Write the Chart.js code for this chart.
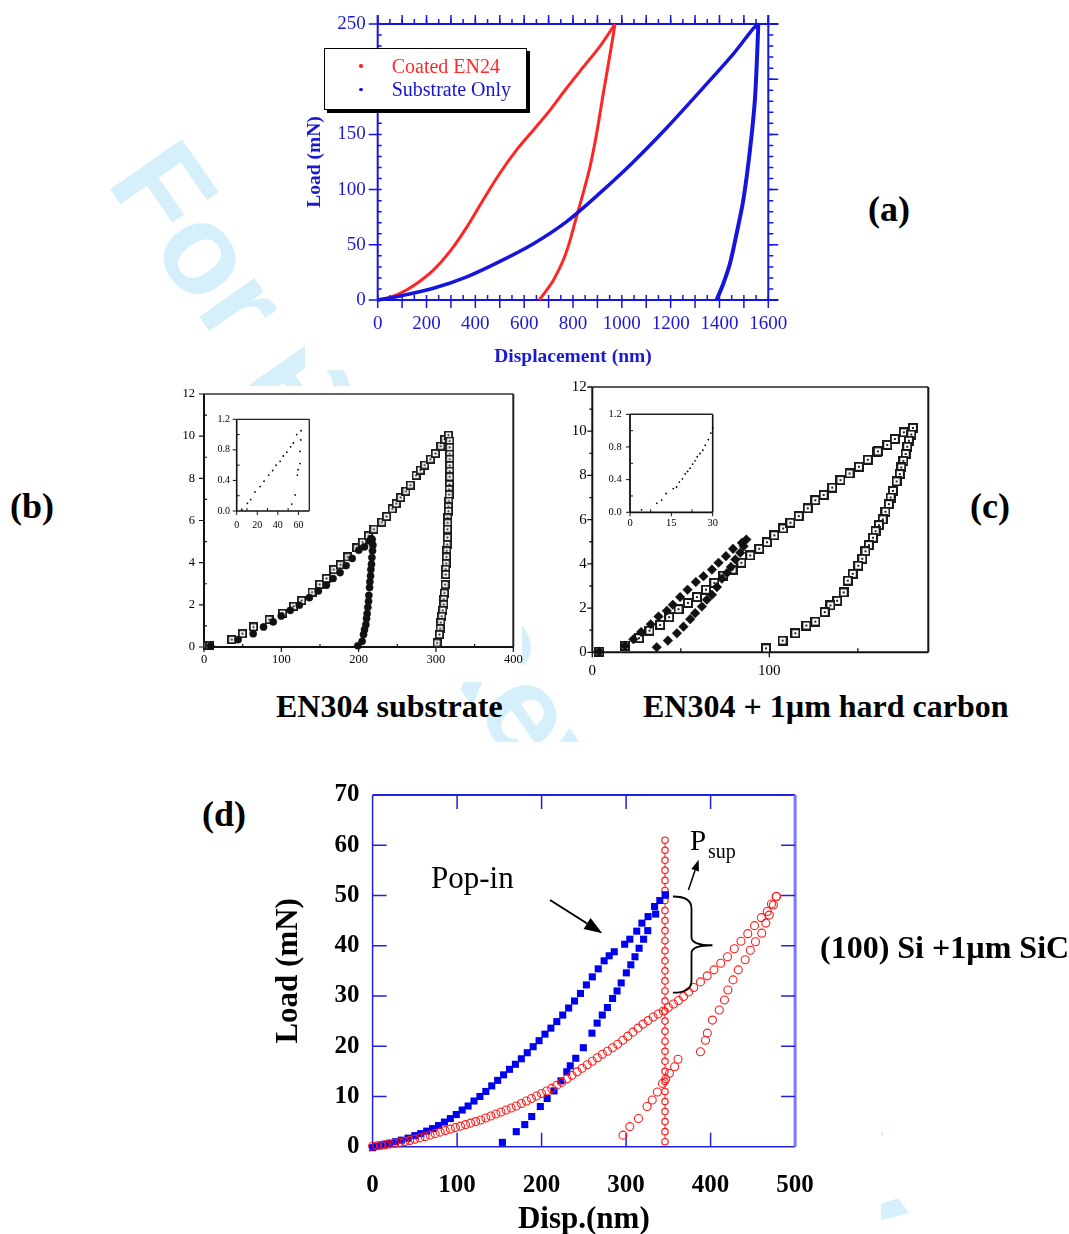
<!DOCTYPE html>
<html><head><meta charset="utf-8">
<title>Load–displacement curves</title>
<script src="https://cdn.jsdelivr.net/npm/chart.js"></script>
<style>
html,body{margin:0;padding:0;background:#fff}
body{position:relative;width:1069px;height:1234px;overflow:hidden;font-family:"Liberation Serif","Times New Roman",serif}
.wm{position:absolute;left:193px;top:121px;transform-origin:0 0;transform:rotate(55deg);font:bold 127px/1 "Liberation Sans",Arial,sans-serif;color:rgb(213,239,251);white-space:nowrap}
.cover{position:absolute;background:#fff}
.box{position:absolute}
.box canvas{display:block}
.t{position:absolute;white-space:nowrap;line-height:1;color:#000}
.b{font-weight:bold}
</style></head>
<body>
<div class="wm">For Peer Review Only</div>
<div class="cover" style="left:305px;top:0;width:495px;height:370px"></div>
<div class="cover" style="left:170px;top:386px;width:352px;height:296px"></div>
<div class="cover" style="left:545px;top:372px;width:395px;height:310px"></div>
<div class="cover" style="left:200px;top:742px;width:681px;height:492px"></div>
<div id="charts"></div>
<div id="labels">
  <div style="position:absolute;left:324px;top:48px;width:203px;height:62px;box-sizing:border-box;border:1.5px solid #000;background:#fff;box-shadow:3px 3px 0 #000"></div>
  <div style="position:absolute;left:359px;top:64px;width:3.5px;height:3.5px;border-radius:50%;background:#ff2020"></div>
  <div class="t" style="left:391.7px;top:55.9px;font-size:20px;color:#ff2a2a">Coated EN24</div>
  <div style="position:absolute;left:359px;top:87.5px;width:3.5px;height:3.5px;border-radius:50%;background:#1515d8"></div>
  <div class="t" style="left:391.7px;top:79.2px;font-size:20px;color:#1515d0">Substrate Only</div>

  <div class="t b" style="left:868px;top:191px;font-size:36px">(a)</div>
  <div class="t b" style="left:10px;top:488px;font-size:36px">(b)</div>
  <div class="t b" style="left:970px;top:488px;font-size:36px">(c)</div>
  <div class="t b" style="left:202px;top:796px;font-size:36px">(d)</div>

  <div class="t b" style="left:276px;top:690.2px;font-size:32px">EN304 substrate</div>
  <div class="t b" style="left:643px;top:690.2px;font-size:32px">EN304 + 1µm hard carbon</div>
  <div class="t b" style="left:820px;top:931.4px;font-size:32px">(100) Si +1µm SiC</div>

  <div class="t" style="left:431px;top:862px;font-size:31px">Pop-in</div>
  <div class="t" style="left:690px;top:826px;font-size:29px">P</div>
  <div class="t" style="left:708px;top:840.6px;font-size:20px">sup</div>
</div>
<script>
// ---------------- DATA ----------------
// (a) Coated EN24 vs Substrate Only : displacement (nm), load (mN)
const aCoatedLoadX   = [0, 37, 92, 160, 228, 296, 365, 433, 501, 569, 638, 706, 774, 842, 911, 972];
const aCoatedLoadY   = [0, 1.5, 6, 15, 27, 44, 66, 91, 115, 136, 154, 172, 192, 211, 230, 250];
const aCoatedUnloadX = [972, 952, 924, 897, 870, 842, 815, 788, 760, 720, 692, 662];
const aCoatedUnloadY = [250, 223, 187, 151, 121, 97, 76, 54, 36, 18, 9, 0];
const aSubLoadX      = [0, 92, 228, 365, 501, 638, 774, 911, 1047, 1184, 1320, 1457, 1539, 1559];
const aSubLoadY      = [0, 3.6, 10.6, 21, 35, 51, 71, 97, 125, 156, 189, 223, 246, 250];
const aSubUnloadX    = [1559, 1555, 1545, 1525, 1498, 1470, 1443, 1416, 1388];
const aSubUnloadY    = [250, 226, 181, 136, 91, 60, 33, 15, 0];

// (b) EN304 substrate : [displacement, load]
const bSquares = [[4.3,0.08],[7.4,0.08],[35.9,0.35],[49.7,0.63],[64,0.95],[84.3,1.3],[101.6,1.6],[115.9,1.93],[126.3,2.2],[139.7,2.6],[149.6,2.97],[158.3,3.25],[167.8,3.67],[176.4,3.9],[185.9,4.27],[197.6,4.7],[205,4.97],[212.8,5.27],[219.7,5.59],[230,5.92],[236.1,6.19],[243.5,6.55],[248.6,6.8],[254.3,7.09],[261.2,7.39],[266.8,7.68],[274.2,8.14],[279.8,8.39],[285.4,8.63],[292.8,8.91],[299.2,9.18],[306.2,9.53],[311.4,9.85],[316.1,10.05],
  [317.8,9.77],[317.8,9.47],[317.8,9.15],[317.8,8.91],[317.8,8.61],[317.8,8.34],[317.8,8.07],[317.4,7.71],[317,7.47],[317,7.23],[316.6,6.92],[316.1,6.65],[316.1,6.44],[315.2,6.13],[315.2,5.89],[314.8,5.59],[314.8,5.19],[314.4,4.86],[314,4.56],[313.5,4.27],[313.1,3.96],[312.6,3.69],[312.6,3.44],[311.8,2.96],[310.9,2.56],[310.1,2.26],[310.1,2.01],[308.8,1.74],[307.5,1.46],[306.2,1.16],[305.3,0.87],[304.4,0.59],[301.4,0.19]];
const bDiamonds = [[8.6,0.06],[44.1,0.35],[63.6,0.63],[77,0.95],[89.5,1.19],[99.9,1.47],[111.6,1.74],[123.2,1.98],[136.2,2.34],[147.9,2.66],[158.3,2.93],[166.9,3.25],[176,3.53],[183.8,3.86],[191.6,4.2],[200.2,4.59],[207.6,4.75],[214.1,5.03],[216.2,5.14],
  [217.5,5.1],[218.4,4.83],[217.9,4.56],[217.1,4.24],[216.6,3.93],[215.8,3.67],[215.4,3.37],[214.5,3.09],[214.1,2.82],[213.2,2.45],[212.8,2.17],[211.9,1.88],[211,1.58],[210.2,1.35],[209.3,1.06],[207.6,0.82],[206.3,0.59],[204.5,0.27],[198.9,0.06]];
const bInsetLoad   = [[4.9,0.02],[10.4,0.1],[13.6,0.15],[17.8,0.25],[22.7,0.32],[26.6,0.39],[31.1,0.47],[35,0.53],[38.3,0.6],[42.2,0.65],[45.4,0.72],[48.7,0.77],[52.5,0.84],[55.1,0.89],[58.4,1.0]];
const bInsetUnload = [[53.5,0.09],[56.8,0.21],[59,0.47],[59.7,0.54],[61.6,0.62],[61.6,0.78],[62.3,0.93],[62.6,1.05]];

// (c) EN304 + 1µm hard carbon : [displacement, load]
const cSquares = [[4,0.03],[18.5,0.3],[26.4,0.64],[32.3,0.98],[38.3,1.24],[43.4,1.59],[48.7,1.95],[54,2.23],[59.1,2.5],[64.2,2.83],[68.9,3.14],[74.1,3.47],[79.2,3.74],[84.2,4.05],[89.2,4.38],[94.3,4.68],[98.7,4.98],[102.8,5.29],[107.8,5.6],[111.9,5.86],[116.6,6.16],[121.7,6.51],[126,6.88],[130.7,7.12],[135.5,7.45],[140.2,7.79],[145.3,8.09],[150.6,8.39],[155.6,8.71],[160.6,9.05],[161.3,9.09],[166.6,9.38],[170.9,9.65],[176,9.95],[181.1,10.15],
  [180.2,9.85],[178.8,9.57],[177.9,9.3],[177,8.97],[175.7,8.66],[174.5,8.36],[173.7,8.06],[171.9,7.73],[169.8,7.3],[168.5,7.0],[167.5,6.7],[165.6,6.36],[164.1,6.01],[161.9,5.75],[160,5.48],[158.5,5.18],[156.2,4.85],[154.3,4.57],[152.5,4.23],[150.2,3.92],[147.1,3.55],[144.3,3.24],[142,2.71],[138.3,2.33],[134.5,2.12],[131.3,1.82],[126,1.39],[120.9,1.21],[114.7,0.86],[107.5,0.53],[98.1,0.18]];
const cDiamonds = [[4,0.03],[18.5,0.3],[23.2,0.59],[27.6,0.92],[33,1.27],[37.4,1.62],[42.1,1.88],[45.5,2.15],[49.6,2.5],[53.8,2.83],[58.5,3.18],[62.8,3.44],[67.6,3.74],[71.3,4.05],[75.5,4.35],[79.5,4.68],[84.5,4.95],[87,5.1],
  [85.5,4.8],[83.6,4.5],[80.8,4.2],[78.3,3.86],[76.1,3.59],[73.2,3.33],[70.4,2.95],[67.6,2.6],[64.7,2.38],[61.9,2.07],[58.1,1.77],[55.3,1.5],[51.5,1.16],[47.8,0.86],[42.7,0.53],[36.4,0.23]];
const cInset = [[4.2,0.03],[9.7,0.11],[11.5,0.15],[13.1,0.23],[15.7,0.29],[16.9,0.31],[17.9,0.37],[19,0.41],[20,0.47],[20.9,0.5],[21.8,0.54],[22.7,0.59],[23.6,0.63],[24.4,0.68],[25.4,0.72],[26.4,0.76],[27.3,0.82],[28.4,0.89],[29.3,0.97],[30,1.03]];

// (d) (100) Si + 1µm SiC : [Disp (nm), Load (mN)]
const dBlueLoad = [[0,-0.2],[5,0.1],[10,0.3],[15,0.5],[20,0.7],[27,1.0],[34,1.3],[42,1.7],[50,2.2],[57,2.6],[64,3.1],[71,3.6],[78,4.2],[85,4.9],[92,5.6],[99,6.4],[106,7.3],[113,8.1],[120,9.1],[127,10.0],[134,11.0],[141,12.1],[148,13.2],[155,14.3],[162,15.4],[169,16.4],[176,17.5],[183,18.7],[190,19.9],[197,21.1],[204,22.4],[211,23.6],[218,24.9],[225,26.2],[232,27.6],[239,29.0],[246,30.5],[253,32.2],[260,33.8],[267,35.4],[274,37.0],[280,38.0],[286,38.8],[298.3,40.3],[304.4,41.3],[312.6,42.9],[318.7,44.5],[326,45.8],[333.7,47.8],[339.9,49.0],[346.4,50.1]];
const dBlueUnload = [[346.4,50.1],[335,46.3],[325.6,43],[320.7,41.3],[315.4,39.5],[310.5,37.8],[305.6,36.2],[300.3,34.6],[294.2,32.6],[289.3,31],[284,29.5],[277.9,27.7],[271.8,26.2],[265.7,24.6],[259.6,22.6],[249.4,19.7],[240.4,17.6],[233.9,16.1],[229.8,14.9],[222.9,13.1],[214.7,11.1],[206.6,9.6],[198.5,8.0],[188.3,6.0],[180.1,4.4],[170,3.0],[153.6,0.86]];
const dRedLoad = [[0,0.1],[5,0.2],[10,0.3],[15,0.4],[20,0.55],[26,0.7],[32,0.9],[38,1.05],[44,1.25],[50,1.5],[56,1.75],[62,2.0],[68,2.3],[74,2.6],[80,2.9],[86,3.2],[92,3.5],[98,3.8],[104,4.1],[110,4.4],[116,4.7],[122,5.0],[128,5.3],[134,5.7],[140,6.1],[146,6.5],[152,6.9],[158,7.3],[164,7.7],[170,8.1],[176,8.6],[182,9.1],[188,9.6],[194,10.1],[200,10.6],[206,11.1],[212,11.6],[218,12.2],[224,12.8],[230,13.5],[236,14.2],[242,14.9],[248,15.6],[254,16.3],[260,17.0],[266,17.7],[272,18.4],[278,19.0],[284,19.7],[290,20.4],[296,21.2],[302,22.0],[308,22.8],[314,23.6],[320,24.4],[326,25.1],[332,25.8],[338,26.4],[344,27.0],[350,27.7],[356,28.4],[362,29.1],[368,29.9],[374,30.8],[380,31.7],[388,32.8],[396,34.0],[404,35.2],[412,36.5],[420,37.8],[428,39.4],[436,40.9],[444,42.4],[452,44.0],[460,45.6],[467,46.8],[472,48.3],[478,49.8]];
const dRedUnload = [[477.6,49.8],[474.3,48.1],[469.4,46.1],[465.4,44.5],[460.5,42.5],[453.1,40.8],[447,39.1],[440.9,37.2],[432.7,35.2],[426.6,33.2],[420.5,31.2],[416.4,29.2],[410.3,27.2],[402.2,25.2],[396.1,22.6],[394,21.2],[388,18.9]];
const dRedLower = [[296.3,2.3],[304.4,4.0],[314.6,5.6],[324.8,8.0],[330.9,9.3],[337,10.9],[343.1,12.6],[347,13.5],[351.3,14.6],[357.4,15.9],[361.4,17.4]];
const dSupX = 346;
const dSupY = [1,3,5,7,9,11,13,15,17,19,21,23,25,27,29,31,33,35,37,39,41,43,45,47,49,51,53,55,57,59,61];

// ---------------- HELPERS ----------------
const SERIF = '"Liberation Serif","Times New Roman",serif';
const pts = arr => arr.map(p => ({x: p[0], y: p[1]}));
const xy = (xs, ys) => xs.map((x, i) => ({x, y: ys[i]}));

function framePlugin(spec) {
  return {
    id: 'frame',
    beforeDatasetsDraw(chart) {
      const {ctx, chartArea: a, scales} = chart;
      ctx.save();
      (spec.lines || []).forEach(L => {
        ctx.strokeStyle = L.color; ctx.lineWidth = L.width;
        const e = L.ext || [0, 0];
        ctx.beginPath();
        if (L.side === 'left' || L.side === 'right') {
          const x = a[L.side];
          ctx.moveTo(x, a.top - e[0]); ctx.lineTo(x, a.bottom + e[1]);
        } else {
          const y = a[L.side];
          ctx.moveTo(a.left - e[0], y); ctx.lineTo(a.right + e[1], y);
        }
        ctx.stroke();
      });
      (spec.ticks || []).forEach(T => {
        const vert = T.side === 'left' || T.side === 'right';
        const sc = vert ? scales.y : scales.x;
        const dir = (T.side === 'left' || T.side === 'top') ? -1 : 1;
        ctx.strokeStyle = T.color; ctx.lineWidth = T.width;
        ctx.beginPath();
        const n = Math.round((T.to - T.from) / T.step);
        for (let i = 0; i <= n; i++) {
          const p = sc.getPixelForValue(T.from + i * T.step);
          const base = a[T.side];
          if (vert) { ctx.moveTo(base + dir * T.out, p); ctx.lineTo(base - dir * T.in, p); }
          else { ctx.moveTo(p, base + dir * T.out); ctx.lineTo(p, base - dir * T.in); }
        }
        ctx.stroke();
      });
      ctx.restore();
    }
  };
}

function axis(min, max, step, o) {
  return {
    type: 'linear', min, max,
    grid: {display: false, drawTicks: false, tickLength: 0}, border: {display: false},
    ticks: {
      stepSize: step, includeBounds: false, autoSkip: false, maxRotation: 0, minRotation: 0,
      color: o.color || '#000',
      font: {family: SERIF, size: o.size, weight: o.weight || 'normal'},
      padding: o.pad,
      callback: o.fmt || (v => String(v))
    },
    title: o.title ? {
      display: true, text: o.title, color: o.color || '#000',
      font: {family: SERIF, size: o.tsize, weight: o.tweight || 'bold', lineHeight: o.tlh || 1.2},
      padding: o.tpad
    } : {display: false}
  };
}

function makeChart(box, area, xAxis, yAxis, datasets, plugins) {
  const holder = document.createElement('div');
  holder.className = 'box';
  holder.style.cssText = `left:${box.l}px;top:${box.t}px;width:${box.w}px;height:${box.h}px`;
  const cv = document.createElement('canvas');
  cv.width = box.w; cv.height = box.h;
  cv.style.width = box.w + 'px'; cv.style.height = box.h + 'px';
  holder.appendChild(cv);
  document.getElementById('charts').appendChild(holder);
  const yW = area.l - box.l, xH = box.t + box.h - area.b;
  xAxis.position = 'bottom'; yAxis.position = 'left';
  xAxis.afterFit = s => { s.height = xH; };
  yAxis.afterFit = s => { s.width = yW; };
  return new Chart(cv, {
    type: 'scatter',
    data: {datasets},
    options: {
      responsive: false, animation: false, events: [],
      layout: {padding: {left: 0, top: area.t - box.t, right: box.l + box.w - area.r, bottom: 0}},
      plugins: {legend: {display: false}, tooltip: {enabled: false}},
      scales: {x: xAxis, y: yAxis}
    },
    plugins: plugins || []
  });
}

function lineDS(data, color, width) {
  return {data, showLine: true, borderColor: color, borderWidth: width, pointRadius: 0, tension: 0.3, clip: false, fill: false};
}
function markDS(data, o) {
  return Object.assign({data, showLine: false, clip: false}, o);
}
function sqIcon(s, lw) {
  const c = document.createElement('canvas'); c.width = s; c.height = s;
  const g = c.getContext('2d');
  g.fillStyle = '#fff'; g.fillRect(0, 0, s, s);
  g.strokeStyle = '#1a1a1a'; g.lineWidth = lw; g.strokeRect(lw / 2, lw / 2, s - lw, s - lw);
  g.fillStyle = '#222'; g.fillRect((s - 2) / 2, (s - 2) / 2, 2, 2);
  return c;
}
function arrow(ctx, x1, y1, x2, y2, hl, hw) {
  const ang = Math.atan2(y2 - y1, x2 - x1);
  const bx = x2 - hl * Math.cos(ang), by = y2 - hl * Math.sin(ang);
  ctx.beginPath(); ctx.moveTo(x1, y1); ctx.lineTo(bx, by); ctx.stroke();
  ctx.beginPath(); ctx.moveTo(x2, y2);
  ctx.lineTo(bx + hw / 2 * Math.sin(ang), by - hw / 2 * Math.cos(ang));
  ctx.lineTo(bx - hw / 2 * Math.sin(ang), by + hw / 2 * Math.cos(ang));
  ctx.closePath(); ctx.fill();
}

// ---------------- (a) ----------------
const BLUE_A = '#1515de', RED_A = '#ff2525';
makeChart({l: 300, t: 0, w: 500, h: 372}, {l: 377.7, t: 24, r: 768.3, b: 300},
  axis(0, 1600, 200, {color: '#1a1ad0', size: 19, pad: 12.5, title: 'Displacement (nm)', tsize: 19.5, tpad: {top: 0, bottom: 3.3}}),
  axis(0, 250, 50, {color: '#1a1ad0', size: 19, pad: 12, title: 'Load (mN)', tsize: 19.5, tpad: {top: 3.3, bottom: 0}}),
  [
    lineDS(xy(aSubLoadX, aSubLoadY), BLUE_A, 3.5),
    lineDS(xy(aSubUnloadX, aSubUnloadY), BLUE_A, 4),
    lineDS(xy(aCoatedLoadX, aCoatedLoadY), RED_A, 3),
    lineDS(xy(aCoatedUnloadX, aCoatedUnloadY), RED_A, 3)
  ],
  [framePlugin({
    lines: [
      {side: 'left', color: BLUE_A, width: 2, ext: [9, 0]},
      {side: 'right', color: BLUE_A, width: 2, ext: [9, 0]},
      {side: 'top', color: BLUE_A, width: 2, ext: [0, 10]},
      {side: 'bottom', color: BLUE_A, width: 2, ext: [0, 10]}
    ],
    ticks: [
      {side: 'bottom', from: 0, to: 1600, step: 50, in: 5, out: 0, color: BLUE_A, width: 1.5},
      {side: 'bottom', from: 0, to: 1600, step: 100, in: 0, out: 8, color: BLUE_A, width: 1.5},
      {side: 'top', from: 0, to: 1600, step: 50, in: 0, out: 5, color: BLUE_A, width: 1.5},
      {side: 'top', from: 0, to: 1600, step: 100, in: 0, out: 9, color: BLUE_A, width: 1.5},
      {side: 'left', from: 0, to: 250, step: 10, in: 4, out: 0, color: BLUE_A, width: 1.5},
      {side: 'left', from: 0, to: 250, step: 50, in: 0, out: 9, color: BLUE_A, width: 1.5},
      {side: 'right', from: 0, to: 250, step: 10, in: 0, out: 5, color: BLUE_A, width: 1.5},
      {side: 'right', from: 0, to: 250, step: 50, in: 0, out: 10, color: BLUE_A, width: 1.5}
    ]
  })]
);

// ---------------- (b) ----------------
makeChart({l: 160, t: 376, w: 370, h: 306}, {l: 204, t: 394, r: 513.3, b: 647},
  axis(0, 400, 100, {size: 12.5, pad: 5}),
  axis(0, 12, 2, {size: 12.5, pad: 9}),
  [
    markDS(pts(bDiamonds), {pointStyle: 'circle', pointRadius: 3.6, pointBackgroundColor: '#111', pointBorderColor: '#111', pointBorderWidth: 0.5}),
    markDS(pts(bSquares), {pointStyle: sqIcon(9, 1.8), pointRadius: 4})
  ],
  [framePlugin({
    lines: [
      {side: 'left', color: '#111', width: 2},
      {side: 'bottom', color: '#111', width: 2},
      {side: 'top', color: '#333', width: 1.5},
      {side: 'right', color: '#222', width: 2}
    ],
    ticks: [
      {side: 'left', from: 0, to: 12, step: 2, in: 0, out: 5, color: '#111', width: 1.2},
      {side: 'left', from: 1, to: 11, step: 2, in: 3, out: 0, color: '#111', width: 1.2},
      {side: 'bottom', from: 0, to: 400, step: 100, in: 0, out: 5, color: '#111', width: 1.2},
      {side: 'bottom', from: 50, to: 350, step: 100, in: 3, out: 0, color: '#111', width: 1.2}
    ]
  })]
);
// (b) inset
makeChart({l: 200, t: 404, w: 116, h: 140}, {l: 236.7, t: 419.3, r: 309.3, b: 511},
  axis(0, 70.6, 20, {size: 10, pad: 8}),
  axis(0, 1.2, 0.4, {size: 10, pad: 6.7, fmt: v => v.toFixed(1)}),
  [
    markDS(pts(bInsetLoad), {pointStyle: 'circle', pointRadius: 0.9, pointBackgroundColor: '#000', pointBorderWidth: 0}),
    markDS(pts(bInsetUnload), {pointStyle: 'circle', pointRadius: 0.9, pointBackgroundColor: '#000', pointBorderWidth: 0})
  ],
  [framePlugin({
    lines: [
      {side: 'left', color: '#111', width: 1.6},
      {side: 'bottom', color: '#111', width: 1.6},
      {side: 'top', color: '#222', width: 1.3},
      {side: 'right', color: '#222', width: 1.3}
    ],
    ticks: [
      {side: 'left', from: 0, to: 1.2, step: 0.4, in: 0, out: 4, color: '#111', width: 1},
      {side: 'left', from: 0.2, to: 1.0, step: 0.4, in: 3, out: 0, color: '#111', width: 1},
      {side: 'bottom', from: 0, to: 60, step: 20, in: 0, out: 4, color: '#111', width: 1},
      {side: 'bottom', from: 10, to: 50, step: 20, in: 3, out: 0, color: '#111', width: 1}
    ]
  })]
);

// ---------------- (c) ----------------
makeChart({l: 550, t: 369, w: 392, h: 316}, {l: 592.3, t: 387, r: 928.3, b: 652.3},
  axis(0, 189.8, 100, {size: 15, pad: 10}),
  axis(0, 12, 2, {size: 15, pad: 5.6}),
  [
    markDS(pts(cDiamonds), {pointStyle: 'rectRot', pointRadius: 4.8, pointBackgroundColor: '#111', pointBorderColor: '#111', pointBorderWidth: 0.5}),
    markDS(pts(cSquares), {pointStyle: sqIcon(10, 2), pointRadius: 4.5})
  ],
  [framePlugin({
    lines: [
      {side: 'left', color: '#111', width: 2},
      {side: 'bottom', color: '#111', width: 2},
      {side: 'top', color: '#222', width: 1.5},
      {side: 'right', color: '#111', width: 2}
    ],
    ticks: [
      {side: 'left', from: 0, to: 12, step: 2, in: 0, out: 5, color: '#111', width: 1.3},
      {side: 'left', from: 1, to: 11, step: 2, in: 0, out: 3, color: '#111', width: 1.3},
      {side: 'bottom', from: 0, to: 100, step: 100, in: 0, out: 5, color: '#111', width: 1.3},
      {side: 'bottom', from: 50, to: 150, step: 100, in: 4, out: 0, color: '#111', width: 1.3}
    ]
  })]
);
// (c) inset
makeChart({l: 596, t: 398, w: 132, h: 140}, {l: 630, t: 414.3, r: 712.7, b: 512.3},
  axis(0, 30, 15, {size: 10.5, pad: 5}),
  axis(0, 1.2, 0.4, {size: 10.5, pad: 8.3, fmt: v => v.toFixed(1)}),
  [
    markDS(pts(cInset), {pointStyle: 'circle', pointRadius: 0.9, pointBackgroundColor: '#000', pointBorderWidth: 0})
  ],
  [framePlugin({
    lines: [
      {side: 'left', color: '#111', width: 1.8},
      {side: 'bottom', color: '#111', width: 1.8},
      {side: 'top', color: '#222', width: 1.4},
      {side: 'right', color: '#111', width: 1.6}
    ],
    ticks: [
      {side: 'left', from: 0, to: 1.2, step: 0.4, in: 0, out: 4, color: '#111', width: 1},
      {side: 'left', from: 0.2, to: 1.0, step: 0.4, in: 3, out: 0, color: '#111', width: 1},
      {side: 'bottom', from: 0, to: 30, step: 15, in: 0, out: 4, color: '#111', width: 1},
      {side: 'bottom', from: 7.5, to: 22.5, step: 15, in: 3, out: 0, color: '#111', width: 1}
    ]
  })]
);

// ---------------- (d) ----------------
const BLUE_D = '#2020e0', RED_D = '#ff1a1a';
const dAnno = {
  id: 'dAnno',
  afterDatasetsDraw(chart) {
    const {ctx, scales: {x, y}} = chart;
    const X = v => x.getPixelForValue(v), Y = v => y.getPixelForValue(v);
    ctx.save();
    ctx.strokeStyle = '#000'; ctx.fillStyle = '#000';
    ctx.lineWidth = 2;
    arrow(ctx, X(210), Y(49.1), X(271.8), Y(42.5), 18, 13);
    ctx.lineWidth = 1.5;
    arrow(ctx, X(373.7), Y(51.1), X(385.9), Y(57.1), 11, 8);
    const xs = X(355.4), xt = X(402.2), yt = Y(49.8), ym = Y(40.1), yb = Y(30.65);
    const xm = xs + (xt - xs) * 0.47;
    ctx.lineWidth = 1.8;
    ctx.beginPath();
    ctx.moveTo(xs, yt);
    ctx.quadraticCurveTo(xm, yt, xm, yt + 12);
    ctx.lineTo(xm, ym - 8);
    ctx.quadraticCurveTo(xm, ym, xt, ym);
    ctx.moveTo(xt, ym);
    ctx.quadraticCurveTo(xm, ym, xm, ym + 8);
    ctx.lineTo(xm, yb - 12);
    ctx.quadraticCurveTo(xm, yb, xs, yb);
    ctx.stroke();
    ctx.restore();
  }
};
const redCircle = {pointStyle: 'circle', pointRadius: 4, pointBorderColor: RED_D, pointBorderWidth: 1.1, pointBackgroundColor: 'rgba(255,255,255,0)'};
makeChart({l: 260, t: 762, w: 585, h: 478}, {l: 372.6, t: 795, r: 795.1, b: 1146.7},
  axis(0, 500, 100, {size: 25, weight: 'bold', pad: 24, title: 'Disp.(nm)', tsize: 31, tlh: 1, tpad: {top: 0, bottom: 4.5}}),
  axis(0, 70, 10, {size: 25, weight: 'bold', pad: 13, title: 'Load (mN)', tsize: 31, tlh: 1, tpad: {top: 13.5, bottom: 0}}),
  [
    markDS(pts(dRedLoad), redCircle),
    markDS(pts(dRedUnload), redCircle),
    markDS(pts(dRedLower), redCircle),
    markDS(pts(dBlueLoad), {pointStyle: 'rect', pointRadius: 5, pointBackgroundColor: '#0000f0', pointBorderWidth: 0}),
    markDS(pts(dBlueUnload), {pointStyle: 'rect', pointRadius: 5, pointBackgroundColor: '#0000f0', pointBorderWidth: 0}),
    {data: dSupY.map(v => ({x: dSupX, y: v})), showLine: true, clip: false, borderColor: RED_D, borderWidth: 1,
      pointStyle: 'circle', pointRadius: 3.2, pointBorderColor: RED_D, pointBorderWidth: 1.2, pointBackgroundColor: '#fff'}
  ],
  [framePlugin({
    lines: [
      {side: 'left', color: BLUE_D, width: 1.5},
      {side: 'bottom', color: BLUE_D, width: 1.5},
      {side: 'top', color: BLUE_D, width: 1.8},
      {side: 'right', color: '#7878ff', width: 3}
    ],
    ticks: [
      {side: 'bottom', from: 100, to: 400, step: 100, in: 14, out: 0, color: BLUE_D, width: 1.5},
      {side: 'top', from: 100, to: 400, step: 100, in: 14, out: 0, color: BLUE_D, width: 1.5},
      {side: 'left', from: 10, to: 60, step: 10, in: 14, out: 0, color: BLUE_D, width: 1.5},
      {side: 'right', from: 10, to: 60, step: 10, in: 14, out: 0, color: BLUE_D, width: 1.5}
    ]
  }), dAnno]
);
</script>
</body></html>
